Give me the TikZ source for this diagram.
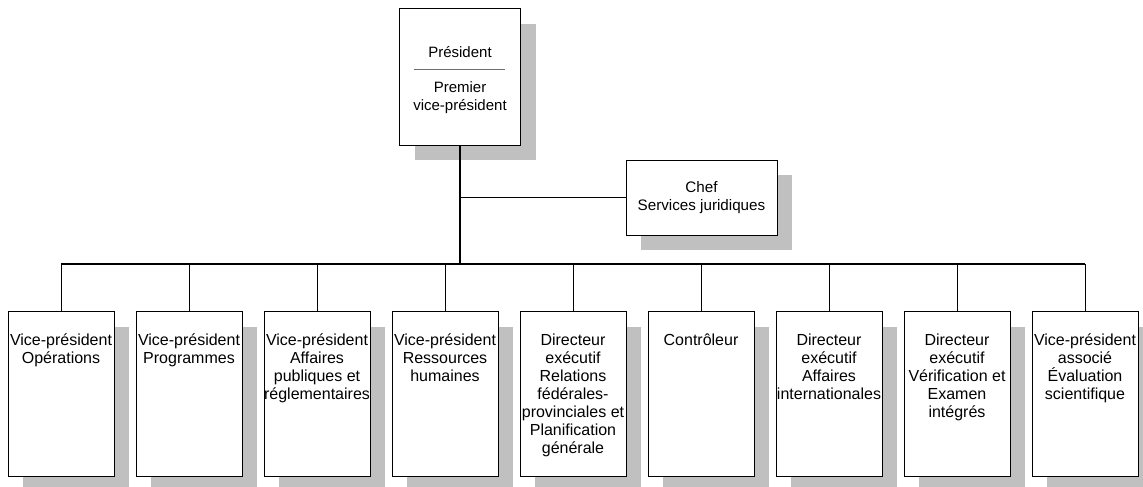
\documentclass[tikz,border=0pt]{standalone}
\usepackage{fontspec}
\setmainfont{Liberation Sans}
\usepackage{xcolor}
\usepackage{tikz}
\usetikzlibrary{shadows, positioning}

\definecolor{ombre}{RGB}{192,192,192}
\definecolor{filet}{RGB}{110,110,110}

\begin{document}
\begin{tikzpicture}[x=1pt, y=-1pt,
    boite/.style={draw, fill=white, line width=1pt,
        general shadow={fill=ombre, shadow xshift=15pt, shadow yshift=-15pt}},
    texte/.style={align=center, inner sep=0pt, font=\fontsize{16}{18}\selectfont},
    lien/.style={line width=1pt}]
    \useasboundingbox (0,0) rectangle (1143,487);

    % 1. Président
    \node[boite, minimum width=121pt, minimum height=136pt] (pres) at (460,77) {};
    \node[texte, font=\fontsize{15}{18}\selectfont, below=37.5pt of pres.north] (presA) {Président};
    \node[texte, font=\fontsize{15}{18}\selectfont, below=72.5pt of pres.north] (presB) {Premier\\vice-président};
    \draw[filet, line width=1.3pt] (414,69.5) -- (505,69.5);

    % 2. Services juridiques
    \node[boite, texte, font=\fontsize{15.2}{18}\selectfont, minimum width=151pt, minimum height=75pt]
        (chef) at (701.5,197.5) {Chef\\Services juridiques};

    % 3. Boîtes du bas
    \foreach \txt [count=\i] in {
        {Vice-président\\Opérations},
        {Vice-président\\Programmes},
        {Vice-président\\Affaires\\publiques et\\réglementaires},
        {Vice-président\\Ressources\\humaines},
        {Directeur\\exécutif\\Relations\\fédérales-\\provinciales et\\Planification\\générale},
        {Contrôleur},
        {Directeur\\exécutif\\Affaires\\internationales},
        {Directeur\\exécutif\\Vérification et\\Examen\\intégrés},
        {Vice-président\\associé\\Évaluation\\scientifique}} {
        \node[boite, anchor=north, minimum width=106pt, minimum height=165pt]
            (b\i) at ({61+128*(\i-1)},311) {};
        \node[texte, below=22.5pt of b\i.north] (t\i) {\txt};
    }

    % 4. Liaisons
    \coordinate (bus) at (460,264);
    \draw[line width=2pt] (pres.south) -- (bus);
    \draw[lien] (pres.south |- chef.west) -- (chef.west);
    \draw[line width=1.3pt] (b1.north |- bus) -- (b9.north |- bus);
    \foreach \i in {1,...,9} {
        \draw[lien] (b\i.north |- bus) -- (b\i.north);
    }
\end{tikzpicture}
\end{document}
